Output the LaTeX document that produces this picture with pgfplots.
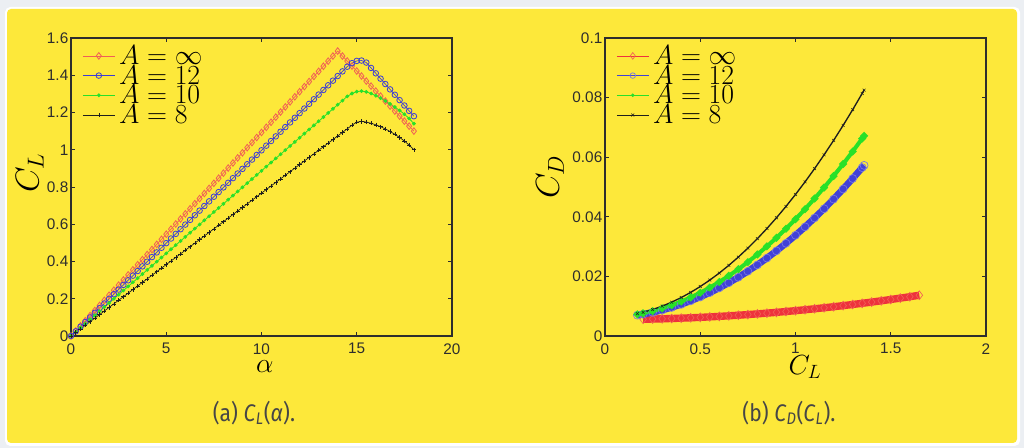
\documentclass[border=0pt]{standalone}
\usepackage{fontspec}
\setmainfont{Liberation Sans}
\newfontfamily\capfont{Fira Sans}[FakeStretch=0.88]
\usepackage{pgfplots}
\pgfplotsset{compat=1.18}
\usepackage{pgfplotstable}
\definecolor{bgyellow}{RGB}{253,232,58}
\definecolor{framegray}{RGB}{236,239,243}
\definecolor{cred}{RGB}{240,95,85}
\definecolor{cblue}{RGB}{60,60,215}
\definecolor{cgreen}{RGB}{40,225,40}
\definecolor{cblack}{RGB}{30,30,30}
\definecolor{tickgray}{RGB}{45,45,45}
\definecolor{bandred}{RGB}{238,50,60}
\definecolor{bandblue}{RGB}{65,65,215}
\definecolor{capgray}{RGB}{70,70,70}

\pgfplotstableread{
a r b g k
0 0 0 0 0
0.25 0.0273 0.0249 0.0222 0.0192
0.5 0.0547 0.0499 0.0444 0.0384
0.75 0.0820 0.0748 0.0665 0.0575
1 0.1093 0.0997 0.0887 0.0767
1.25 0.1366 0.1246 0.1109 0.0959
1.5 0.1640 0.1496 0.1331 0.1151
1.75 0.1913 0.1745 0.1552 0.1342
2 0.2186 0.1994 0.1774 0.1534
2.25 0.2459 0.2243 0.1996 0.1726
2.5 0.2733 0.2493 0.2218 0.1918
2.75 0.3006 0.2742 0.2439 0.2109
3 0.3279 0.2991 0.2661 0.2301
3.25 0.3552 0.3240 0.2883 0.2493
3.5 0.3826 0.3490 0.3105 0.2685
3.75 0.4099 0.3739 0.3326 0.2876
4 0.4372 0.3988 0.3548 0.3068
4.25 0.4645 0.4237 0.3770 0.3260
4.5 0.4919 0.4487 0.3992 0.3452
4.75 0.5192 0.4736 0.4213 0.3643
5 0.5465 0.4985 0.4435 0.3835
5.25 0.5738 0.5234 0.4657 0.4027
5.5 0.6012 0.5484 0.4879 0.4219
5.75 0.6285 0.5733 0.5100 0.4410
6 0.6558 0.5982 0.5322 0.4602
6.25 0.6831 0.6231 0.5544 0.4794
6.5 0.7105 0.6481 0.5766 0.4986
6.75 0.7378 0.6730 0.5987 0.5177
7 0.7651 0.6979 0.6209 0.5369
7.25 0.7924 0.7228 0.6431 0.5561
7.5 0.8198 0.7478 0.6653 0.5753
7.75 0.8471 0.7727 0.6874 0.5944
8 0.8744 0.7976 0.7096 0.6136
8.25 0.9017 0.8225 0.7318 0.6328
8.5 0.9291 0.8475 0.7540 0.6520
8.75 0.9564 0.8724 0.7761 0.6711
9 0.9837 0.8973 0.7983 0.6903
9.25 1.0110 0.9222 0.8205 0.7095
9.5 1.0384 0.9472 0.8427 0.7287
9.75 1.0657 0.9721 0.8648 0.7478
10 1.0930 0.9970 0.8870 0.7670
10.25 1.1203 1.0219 0.9092 0.7862
10.5 1.1477 1.0469 0.9314 0.8054
10.75 1.1750 1.0718 0.9535 0.8245
11 1.2023 1.0967 0.9757 0.8437
11.25 1.2296 1.1216 0.9979 0.8629
11.5 1.2570 1.1466 1.0201 0.8821
11.75 1.2843 1.1715 1.0422 0.9012
12 1.3116 1.1964 1.0644 0.9204
12.25 1.3389 1.2213 1.0866 0.9396
12.5 1.3663 1.2463 1.1088 0.9588
12.75 1.3936 1.2712 1.1309 0.9779
13 1.4209 1.2961 1.1531 0.9971
13.25 1.4482 1.3210 1.1753 1.0163
13.5 1.4756 1.3460 1.1975 1.0355
13.75 1.5029 1.3709 1.2196 1.0546
14 1.5300 1.3958 1.2418 1.0738
14.25 1.5031 1.4207 1.2640 1.0930
14.5 1.4763 1.4457 1.2862 1.1122
14.75 1.4494 1.4650 1.3020 1.1320
15 1.4225 1.4770 1.3120 1.1480
15.25 1.3956 1.4790 1.3150 1.1520
15.5 1.3688 1.4680 1.3110 1.1490
15.75 1.3419 1.4392 1.3020 1.1420
16 1.3150 1.4104 1.2900 1.1340
16.25 1.2881 1.3816 1.2770 1.1240
16.5 1.2613 1.3528 1.2620 1.1120
16.75 1.2344 1.3240 1.2460 1.0980
17 1.2075 1.2952 1.2290 1.0830
17.25 1.1806 1.2664 1.2110 1.0660
17.5 1.1538 1.2376 1.1910 1.0470
17.75 1.1269 1.2088 1.1680 1.0250
18 1.1000 1.1800 1.1400 1.0000
}\tabA

\pgfplotstableread{
cl cd
0.20 0.00562
0.25 0.00569
0.30 0.00577
0.35 0.00587
0.40 0.00598
0.45 0.00611
0.50 0.00625
0.55 0.00641
0.60 0.00658
0.65 0.00677
0.70 0.00697
0.75 0.00719
0.80 0.00742
0.85 0.00767
0.90 0.00793
0.95 0.00821
1.00 0.00850
1.05 0.00881
1.10 0.00913
1.15 0.00947
1.20 0.00982
1.25 0.01019
1.30 0.01057
1.35 0.01097
1.40 0.01138
1.45 0.01181
1.50 0.01225
1.55 0.01271
1.60 0.01318
1.65 0.01367
}\tabRed

\pgfplotstableread{
cl b g k
0.17 0.00700 0.00725 0.00749
0.20 0.00730 0.00762 0.00795
0.25 0.00793 0.00836 0.00888
0.30 0.00868 0.00926 0.01001
0.35 0.00958 0.01033 0.01135
0.40 0.01062 0.01156 0.01289
0.45 0.01179 0.01296 0.01464
0.50 0.01310 0.01453 0.01660
0.55 0.01455 0.01625 0.01876
0.60 0.01614 0.01814 0.02113
0.65 0.01786 0.02020 0.02371
0.70 0.01972 0.02242 0.02649
0.75 0.02173 0.02481 0.02948
0.80 0.02386 0.02736 0.03267
0.85 0.02614 0.03007 0.03607
0.90 0.02856 0.03295 0.03967
0.95 0.03111 0.03599 0.04348
1.00 0.03380 0.03920 0.04750
1.05 0.03663 0.04257 0.05172
1.10 0.03960 0.04611 0.05615
1.15 0.04270 0.04981 0.06079
1.20 0.04594 0.05368 0.06563
1.25 0.04933 0.05771 0.07068
1.30 0.05284 0.06190 0.07593
1.35 0.05650 0.06626 0.08139
1.36 0.05725 0.06715 0.08250
}\tabB

\pgfplotsset{
  panel/.style={
    scale only axis, width=285.75pt, height=223.5pt, anchor=south west,
    axis line style={tickgray, line width=0.9pt},
    tick style={tickgray, line width=0.6pt},
    major tick length=3pt, tick align=inside,
    ticklabel style={font=\fontsize{11.5}{13}\selectfont, text=tickgray},
    xticklabel style={yshift=-2pt},
    yticklabel style={xshift=1.5pt},
    label style={text=black},
    legend cell align=left,
    legend style={draw=none, fill=none, at={(0.03,0.975)}, anchor=north west,
      inner sep=0pt, outer sep=0pt, font=\fontsize{20.5}{14}\selectfont,
      nodes={inner sep=0pt}, column sep=3pt, row sep=-0.9pt},
    legend image code/.code={\draw[mark repeat=2,mark phase=2] plot coordinates {(0pt,0pt)(12pt,0pt)(24pt,0pt)};},
  }
}

\begin{document}
\begin{tikzpicture}[x=1pt,y=1pt]
\useasboundingbox (0,0) rectangle (768,336);
\fill[framegray] (0,0) rectangle (768,336);
\fill[white, rounded corners=4pt] (3.75,1.5) rectangle (765,330.75);
\fill[bgyellow, rounded corners=3pt] (5.25,3.75) rectangle (762.75,329.25);

\begin{axis}[panel, at={(53.25pt,84pt)},
  xmin=0, xmax=20, ymin=0, ymax=1.6,
  xtick={0,5,10,15,20}, xticklabels={0,5,10,15,20},
  ytick={0,0.2,0.4,0.6,0.8,1,1.2,1.4,1.6},
  yticklabels={0,0.2,0.4,0.6,0.8,1,1.2,1.4,1.6},
  xlabel={$\alpha$}, ylabel={$C_L$},
  xlabel style={at={(axis description cs:0.509,-0.104)}, anchor=center, font=\fontsize{21}{24}\selectfont},
  ylabel style={at={(axis description cs:-0.108,0.547)}, anchor=center, rotate=0, font=\fontsize{25}{28}\selectfont},
]
\addplot[color=cred, line width=0.5pt, mark=diamond, mark size=2.5pt, mark options={solid, line width=0.6pt}] table[x=a,y=r] {\tabA};
\addlegendentry{$A=\infty$}
\addplot[color=cblue, line width=0.5pt, mark=o, mark size=2.1pt, mark options={solid, line width=0.6pt}] table[x=a,y=b] {\tabA};
\addlegendentry{$A=12$}
\addplot[color=cgreen, line width=0.6pt, mark=*, mark size=1.1pt] table[x=a,y=g] {\tabA};
\addlegendentry{$A=10$}
\addplot[color=cblack, line width=0.5pt, mark=+, mark size=1.6pt, mark options={line width=0.4pt}] table[x=a,y=k] {\tabA};
\addlegendentry{$A=8$}
\end{axis}

\begin{axis}[panel, at={(453.75pt,84pt)},
  xmin=0, xmax=2, ymin=0, ymax=0.1,
  xtick={0,0.5,1,1.5,2}, xticklabels={0,0.5,1,1.5,2},
  ytick={0,0.02,0.04,0.06,0.08,0.1},
  yticklabels={0,0.02,0.04,0.06,0.08,0.1},
  scaled ticks=false,
  xlabel={$C_L$}, ylabel={$C_D$},
  xlabel style={at={(axis description cs:0.525,-0.104)}, anchor=center, font=\fontsize{21}{24}\selectfont},
  ylabel style={at={(axis description cs:-0.144,0.534)}, anchor=center, rotate=0, font=\fontsize{25}{28}\selectfont},
]
\addplot[color=bandred, line width=5.5pt, mark=diamond, mark size=3.3pt, mark options={solid, line width=0.5pt, draw=cred}, legend image post style={line width=0.5pt, mark size=2.5pt}] table[x=cl,y=cd] {\tabRed};
\addlegendentry{$A=\infty$}
\addplot[color=bandblue, line width=5pt, mark=o, mark size=3pt, mark options={solid, line width=0.5pt, draw=cblue!70}, legend image post style={line width=0.5pt, mark size=2.1pt}] table[x=cl,y=b] {\tabB};
\addlegendentry{$A=12$}
\addplot[color=cgreen, line width=3pt, mark=*, mark size=1pt, legend image post style={line width=0.5pt}] table[x=cl,y=g] {\tabB};
\addlegendentry{$A=10$}
\addplot[color=cblack, line width=1pt, mark=x, mark size=1.5pt, mark options={line width=0.4pt}, legend image post style={line width=0.5pt}] table[x=cl,y=k] {\tabB};
\addlegendentry{$A=8$}
\end{axis}

\node[text=capgray, font=\capfont\fontsize{18}{20}\selectfont] at (190.5,26.25) {(a)\ \textit{C}\textsubscript{\textit{L}}(\textit{α}).};
\node[text=capgray, font=\capfont\fontsize{18}{20}\selectfont] at (591.75,26.25) {(b)\ \textit{C}\textsubscript{\textit{D}}(\textit{C}\textsubscript{\textit{L}}).};
\end{tikzpicture}
\end{document}
